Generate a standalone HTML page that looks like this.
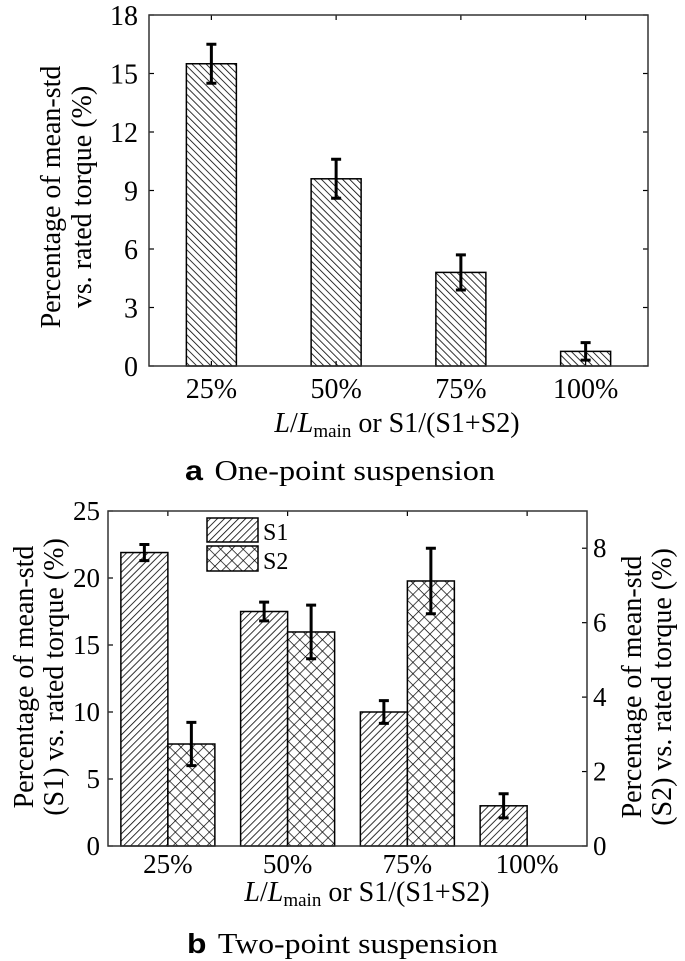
<!DOCTYPE html>
<html><head><meta charset="utf-8"><style>
html,body{margin:0;padding:0;background:#fff;}
svg{display:block;font-family:"Liberation Serif",serif;}
</style></head><body>
<svg id="fig" width="685" height="961" viewBox="0 0 685 961">
<defs>
<pattern id="hatchA" patternUnits="userSpaceOnUse" width="5" height="5" patternTransform="rotate(-45)"><rect width="5" height="5" fill="#fff"/><line x1="0" y1="0" x2="0" y2="5" stroke="#000" stroke-width="1.6"/></pattern>
<pattern id="hatchS1" patternUnits="userSpaceOnUse" width="5" height="5" patternTransform="rotate(45)"><rect width="5" height="5" fill="#fff"/><line x1="0" y1="0" x2="0" y2="5" stroke="#000" stroke-width="1.6"/></pattern>
<pattern id="hatchS2" patternUnits="userSpaceOnUse" width="8" height="8" patternTransform="rotate(45)"><rect width="8" height="8" fill="#fff"/><line x1="0" y1="0" x2="0" y2="8" stroke="#000" stroke-width="1.4"/><line x1="0" y1="0" x2="8" y2="0" stroke="#000" stroke-width="1.4"/></pattern>
</defs>
<g id="chartA"></g>
<g id="chartB"></g>
<text x="60" y="197" font-size="28" text-anchor="middle" transform="rotate(-90 60 197)">Percentage of mean-std</text>
<text x="91" y="197" font-size="28" text-anchor="middle" transform="rotate(-90 91 197)">vs. rated torque (%)</text>
<text x="397" y="432" font-size="28" text-anchor="middle"><tspan font-style="italic">L</tspan>/<tspan font-style="italic">L</tspan><tspan font-size="19" dy="5">main</tspan><tspan dy="-5"> or S1/(S1+S2)</tspan></text>
<text x="185" y="480" font-size="28" textLength="310" lengthAdjust="spacingAndGlyphs"><tspan font-family="Liberation Sans, sans-serif" font-weight="bold">a</tspan><tspan dx="10">One-point suspension</tspan></text>
<text x="33" y="677" font-size="28" text-anchor="middle" transform="rotate(-90 33 677)">Percentage of mean-std</text>
<text x="63" y="677" font-size="28" text-anchor="middle" transform="rotate(-90 63 677)">(S1) vs. rated torque (%)</text>
<text x="641" y="687" font-size="28" text-anchor="middle" transform="rotate(-90 641 687)">Percentage of mean-std</text>
<text x="671" y="687" font-size="28" text-anchor="middle" transform="rotate(-90 671 687)">(S2) vs. rated torque (%)</text>
<text x="367" y="901" font-size="28" text-anchor="middle"><tspan font-style="italic">L</tspan>/<tspan font-style="italic">L</tspan><tspan font-size="19" dy="5">main</tspan><tspan dy="-5"> or S1/(S1+S2)</tspan></text>
<text x="187" y="953" font-size="28" textLength="311" lengthAdjust="spacingAndGlyphs"><tspan font-family="Liberation Sans, sans-serif" font-weight="bold">b</tspan><tspan dx="10">Two-point suspension</tspan></text>
</svg>
<script>
const categories = ["25%","50%","75%","100%"];
const valuesA = [15.5, 9.6, 4.8, 0.75];
const errA = [1.0, 1.0, 0.9, 0.45];
const ticksA = [0,3,6,9,12,15,18];
const valuesS1 = [21.9, 17.5, 10.0, 3.0];
const errS1 = [0.6, 0.7, 0.85, 0.9];
const valuesS2 = [2.74, 5.75, 7.12, 0];
const errS2 = [0.58, 0.72, 0.88, 0];
const ticksBLeft = [0,5,10,15,20,25];
const ticksBRight = [0,2,4,6,8];

const NS = "http://www.w3.org/2000/svg";
function mk(parent, tag, attrs){ const e=document.createElementNS(NS,tag); for(const k in attrs) e.setAttribute(k,attrs[k]); parent.appendChild(e); return e; }

// Chart A
(function(){
  const g=document.getElementById('chartA');
  const L=149,R=648,T=15,B=366, ymax=18;
  const y=v=>B-(v/ymax)*(B-T);
  const band=(R-L)/categories.length;
  const xc=i=>L+band*(i+0.5);
  const bw=50;
  categories.forEach((c,i)=>{
    const r=mk(g,'rect',{x:xc(i)-bw/2,y:y(valuesA[i]),width:bw,height:B-y(valuesA[i]),fill:'url(#hatchA)',stroke:'#000','stroke-width':1.5});
    
    
    const hi=y(valuesA[i]+errA[i]), lo=y(valuesA[i]-errA[i]);
    const e=mk(g,'path',{d:`M${xc(i)} ${hi}V${lo}M${xc(i)-5} ${hi}H${xc(i)+5}M${xc(i)-5} ${lo}H${xc(i)+5}`,stroke:'#000','stroke-width':3,fill:'none'});
    
    
    mk(g,'line',{x1:xc(i),x2:xc(i),y1:B,y2:B-5,stroke:'#000','stroke-width':1.2});
    mk(g,'line',{x1:xc(i),x2:xc(i),y1:T,y2:T+5,stroke:'#000','stroke-width':1.2});
    const t=mk(g,'text',{x:xc(i),y:B+32,'font-size':28,'text-anchor':'middle'}); t.textContent=c;
    
    
  });
  ticksA.forEach(v=>{
    mk(g,'line',{x1:L,x2:L+5,y1:y(v),y2:y(v),stroke:'#000','stroke-width':1.2});
    mk(g,'line',{x1:R,x2:R-5,y1:y(v),y2:y(v),stroke:'#000','stroke-width':1.2});
    const t=mk(g,'text',{x:L-11,y:y(v)+10,'font-size':28,'text-anchor':'end'}); t.textContent=v;
    
    
  });
  const f=mk(g,'rect',{x:L,y:T,width:R-L,height:B-T,fill:'none',stroke:'#333','stroke-width':1.5});
  
  
})();

// Chart B
(function(){
  const g=document.getElementById('chartB');
  const L=108,R=587,T=511,B=846, ymaxL=25, ymaxR=9;
  const yl=v=>B-(v/ymaxL)*(B-T);
  const yr=v=>B-(v/ymaxR)*(B-T);
  const band=(R-L)/categories.length;
  const xc=i=>L+band*(i+0.5);
  const bw=47;
  function err(x,hi,lo,name){
    const e=mk(g,'path',{d:`M${x} ${hi}V${lo}M${x-5} ${hi}H${x+5}M${x-5} ${lo}H${x+5}`,stroke:'#000','stroke-width':3,fill:'none'});
    
    
  }
  categories.forEach((c,i)=>{
    const x=xc(i);
    const r1=mk(g,'rect',{x:x-bw,y:yl(valuesS1[i]),width:bw,height:B-yl(valuesS1[i]),fill:'url(#hatchS1)',stroke:'#000','stroke-width':1.5});
    
    
    err(x-bw/2,yl(valuesS1[i]+errS1[i]),yl(valuesS1[i]-errS1[i]),'error-bar-s1-'+c);
    if(valuesS2[i]>0){
      const r2=mk(g,'rect',{x:x,y:yr(valuesS2[i]),width:bw,height:B-yr(valuesS2[i]),fill:'url(#hatchS2)',stroke:'#000','stroke-width':1.5});
      
      
      err(x+bw/2,yr(valuesS2[i]+errS2[i]),yr(valuesS2[i]-errS2[i]),'error-bar-s2-'+c);
    }
    mk(g,'line',{x1:x,x2:x,y1:B,y2:B-5,stroke:'#000','stroke-width':1.2});
    mk(g,'line',{x1:x,x2:x,y1:T,y2:T+5,stroke:'#000','stroke-width':1.2});
    const t=mk(g,'text',{x:x,y:B+27,'font-size':27,'text-anchor':'middle'}); t.textContent=c;
    
    
  });
  ticksBLeft.forEach(v=>{
    mk(g,'line',{x1:L,x2:L+5,y1:yl(v),y2:yl(v),stroke:'#000','stroke-width':1.2});
    const t=mk(g,'text',{x:L-8,y:yl(v)+9,'font-size':27,'text-anchor':'end'}); t.textContent=v;
    
    
  });
  ticksBRight.forEach(v=>{
    mk(g,'line',{x1:R,x2:R-5,y1:yr(v),y2:yr(v),stroke:'#000','stroke-width':1.2});
    const t=mk(g,'text',{x:R+6,y:yr(v)+9,'font-size':27,'text-anchor':'start'}); t.textContent=v;
    
    
  });
  const f=mk(g,'rect',{x:L,y:T,width:R-L,height:B-T,fill:'none',stroke:'#333','stroke-width':1.5});
  
  
  // legend
  const lg=mk(g,'g',{});
  
  
  const s1=mk(lg,'rect',{x:207,y:518,width:51,height:24,fill:'url(#hatchS1)',stroke:'#000','stroke-width':1.5});
  
  
  const s2=mk(lg,'rect',{x:207,y:546,width:51,height:25,fill:'url(#hatchS2)',stroke:'#000','stroke-width':1.5});
  
  
  const t1=mk(lg,'text',{x:263,y:540,'font-size':24}); t1.textContent='S1';
  
  
  const t2=mk(lg,'text',{x:263,y:569,'font-size':24}); t2.textContent='S2';
  
  
})();
</script>
</body></html>
